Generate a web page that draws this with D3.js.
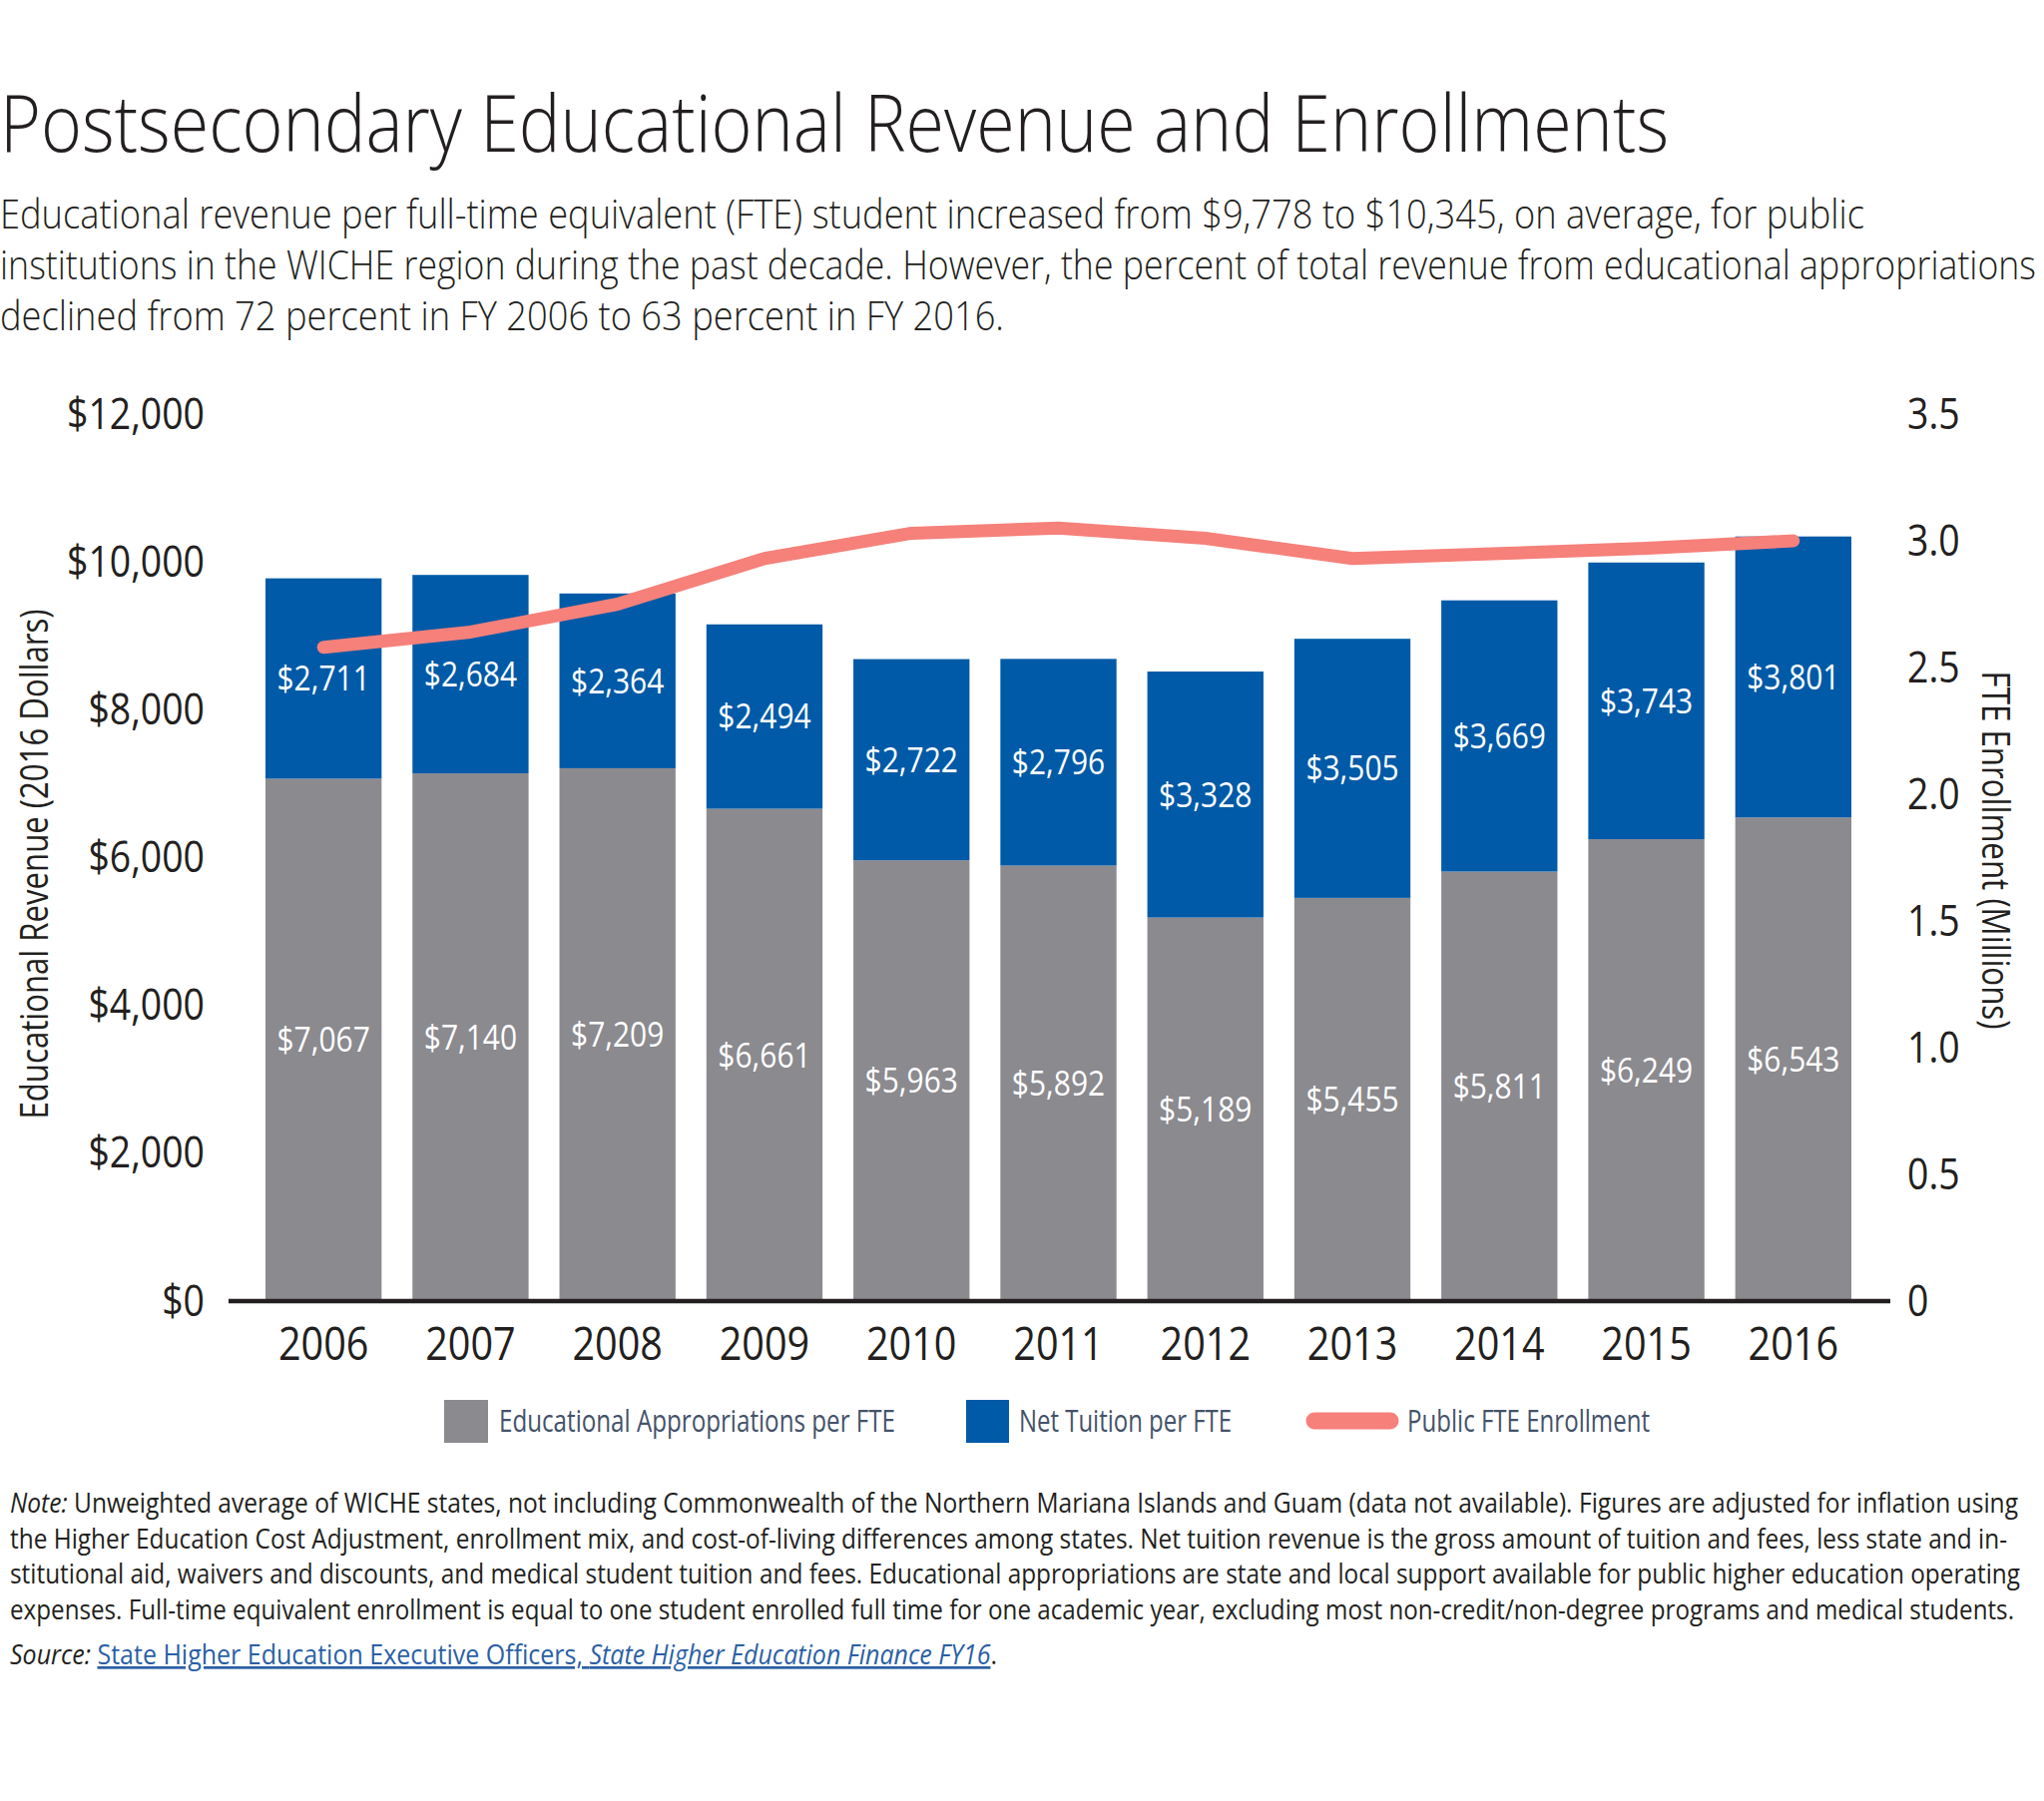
<!DOCTYPE html>
<html><head><meta charset="utf-8">
<script src="https://cdn.jsdelivr.net/npm/d3@7"></script>
<style>
html,body{margin:0;padding:0;background:#fff;}
svg{display:block;}
text{font-family:'Open Sans','Noto Sans','DejaVu Sans',sans-serif;}
</style></head><body>
<svg id="chart" width="2048" height="1805"></svg>
<script>
// ---------- data ----------
const years = ['2006','2007','2008','2009','2010','2011','2012','2013','2014','2015','2016'];
const appropriations = [7067,7140,7209,6661,5963,5892,5189,5455,5811,6249,6543];
const tuition = [2711,2684,2364,2494,2722,2796,3328,3505,3669,3743,3801];
const enrollment = [2.58,2.64,2.75,2.93,3.03,3.05,3.01,2.93,2.95,2.97,3.0];
const leftTicks = [0,2000,4000,6000,8000,10000,12000];
const rightTicks = [0,0.5,1.0,1.5,2.0,2.5,3.0,3.5];
const seriesNames = ['Educational Appropriations per FTE','Net Tuition per FTE','Public FTE Enrollment'];

const titleText = 'Postsecondary Educational Revenue and Enrollments';
const subtitleLines = [
  'Educational revenue per full-time equivalent (FTE) student increased from $9,778 to $10,345, on average, for public',
  'institutions in the WICHE region during the past decade. However, the percent of total revenue from educational appropriations',
  'declined from 72 percent in FY 2006 to 63 percent in FY 2016.'
];
const noteLines = [
  ' Unweighted average of WICHE states, not including Commonwealth of the Northern Mariana Islands and Guam (data not available). Figures are adjusted for inflation using',
  'the Higher Education Cost Adjustment, enrollment mix, and cost-of-living differences among states. Net tuition revenue is the gross amount of tuition and fees, less state and in-',
  'stitutional aid, waivers and discounts, and medical student tuition and fees. Educational appropriations are state and local support available for public higher education operating',
  'expenses. Full-time equivalent enrollment is equal to one student enrolled full time for one academic year, excluding most non-credit/non-degree programs and medical students.'
];

// ---------- style ----------
const C = {gray:'#8b8a8f', blue:'#005aa7', salmon:'#f6807a', ink:'#231f20', legend:'#44526a', link:'#2a5fa5'};

const svg = d3.select('#chart');
svg.append('rect').attr('width',2048).attr('height',1805).attr('fill','#fff');

function fit(sel, w){ sel.attr('textLength', w).attr('lengthAdjust','spacingAndGlyphs'); return sel; }
function squeeze(sel, f){ sel.each(function(){ const w=this.getComputedTextLength(); this.setAttribute('textLength', w*f); this.setAttribute('lengthAdjust','spacingAndGlyphs'); }); return sel; }

// ---------- title ----------
fit(svg.append('text').attr('x',0).attr('y',152).attr('font-size',80).attr('font-weight',300)
  .attr('fill',C.ink).text(titleText), 1672);
const subW = [1868, 2040, 1006];
const subY = [229, 280, 331];
subtitleLines.forEach((t,i)=>{
  fit(svg.append('text').attr('x',0).attr('y',subY[i]).attr('font-size',41).attr('font-weight',300)
    .attr('fill',C.ink).text(t), subW[i]);
});

// ---------- scales ----------
const x = d3.scaleBand().domain(years).range([266,1855]).paddingInner(0.21);
const y = d3.scaleLinear().domain([0,12000]).range([1304,415]);
const y2 = d3.scaleLinear().domain([0,3.5]).range([1304,415]);

// ---------- bars ----------
const rows = years.map((yr,i)=>({yr, a:appropriations[i], t:tuition[i], e:enrollment[i]}));
const g = svg.append('g');
g.selectAll('rect.app').data(rows).join('rect').attr('class','app')
  .attr('x',d=>x(d.yr)).attr('width',x.bandwidth())
  .attr('y',d=>y(d.a)).attr('height',d=>y(0)-y(d.a)).attr('fill',C.gray);
g.selectAll('rect.tui').data(rows).join('rect').attr('class','tui')
  .attr('x',d=>x(d.yr)).attr('width',x.bandwidth())
  .attr('y',d=>y(d.a+d.t)).attr('height',d=>y(d.a)-y(d.a+d.t)).attr('fill',C.blue);

const fmt = d=>'$'+d3.format(',')(d);
squeeze(g.selectAll('text.lapp').data(rows).join('text').attr('class','lapp')
  .attr('x',d=>x(d.yr)+x.bandwidth()/2).attr('y',d=>(y(0)+y(d.a))/2).attr('dy','0.36em')
  .attr('text-anchor','middle').attr('font-size',34).attr('fill','#fff').text(d=>fmt(d.a)), 0.88);
squeeze(g.selectAll('text.ltui').data(rows).join('text').attr('class','ltui')
  .attr('x',d=>x(d.yr)+x.bandwidth()/2).attr('y',d=>(y(d.a)+y(d.a+d.t))/2).attr('dy','0.36em')
  .attr('text-anchor','middle').attr('font-size',34).attr('fill','#fff').text(d=>fmt(d.t)), 0.88);

// ---------- line ----------
const line = d3.line().x(d=>x(d.yr)+x.bandwidth()/2).y(d=>y2(d.e));
svg.append('path').datum(rows).attr('d',line).attr('fill','none').attr('stroke',C.salmon)
  .attr('stroke-width',13).attr('stroke-linecap','round').attr('stroke-linejoin','round');

// ---------- axes ----------
const axL = svg.append('g').attr('transform','translate(215,0)')
  .call(d3.axisLeft(y).tickValues(leftTicks).tickFormat(fmt).tickSize(0).tickPadding(10));
axL.select('.domain').remove();
axL.selectAll('text').attr('font-size',44).attr('fill',C.ink).attr('font-family',null);
squeeze(axL.selectAll('text'), 0.85);

const axR = svg.append('g').attr('transform','translate(1901,0)')
  .call(d3.axisRight(y2).tickValues(rightTicks).tickFormat(d=>d===0?'0':d3.format('.1f')(d)).tickSize(0).tickPadding(10));
axR.select('.domain').remove();
axR.selectAll('text').attr('font-size',44).attr('fill',C.ink).attr('font-family',null);
squeeze(axR.selectAll('text'), 0.85);

const axB = svg.append('g').attr('transform','translate(0,1304)')
  .call(d3.axisBottom(x).tickSize(0).tickPadding(26));
axB.select('.domain').remove();
axB.selectAll('text').attr('font-size',46).attr('fill',C.ink).attr('font-family',null);
squeeze(axB.selectAll('text'), 0.86);

svg.append('line').attr('x1',229).attr('x2',1894).attr('y1',1304).attr('y2',1304)
  .attr('stroke',C.ink).attr('stroke-width',4.5);

// axis titles
fit(svg.append('text').attr('transform','translate(48,866) rotate(-90)').attr('text-anchor','middle')
  .attr('font-size',38).attr('fill',C.ink).text('Educational Revenue (2016 Dollars)'), 511);
fit(svg.append('text').attr('transform','translate(1986,852) rotate(90)').attr('text-anchor','middle')
  .attr('font-size',38).attr('fill',C.ink).text('FTE Enrollment (Millions)'), 359);

// ---------- legend ----------
const lg = svg.append('g');
lg.append('rect').attr('x',445).attr('y',1403).attr('width',44).attr('height',43).attr('fill',C.gray);
lg.append('rect').attr('x',968).attr('y',1403).attr('width',43).attr('height',43).attr('fill',C.blue);
lg.append('line').attr('x1',1317).attr('x2',1393).attr('y1',1424).attr('y2',1424)
  .attr('stroke',C.salmon).attr('stroke-width',17).attr('stroke-linecap','round');
const legX = [500,1021,1410], legW = [397,213,243];
seriesNames.forEach((n,i)=>{
  fit(lg.append('text').attr('x',legX[i]).attr('y',1435).attr('font-size',31).attr('fill',C.legend).text(n), legW[i]);
});

// ---------- notes ----------
const noteW = [2012, 2001, 2014, 2008];
const noteY = [1516, 1552, 1587, 1623];
noteLines.forEach((t,i)=>{
  const tx = svg.append('text').attr('x',10).attr('y',noteY[i]).attr('font-size',27).attr('fill',C.ink);
  if(i===0){ tx.append('tspan').attr('font-style','italic').text('Note:'); }
  tx.append('tspan').text(t);
  fit(tx, noteW[i]);
});
const src = svg.append('text').attr('x',10).attr('y',1668).attr('font-size',27).attr('fill',C.ink);
src.append('tspan').attr('font-style','italic').text('Source: ');
src.append('tspan').attr('fill',C.link).attr('text-decoration','underline').text('State Higher Education Executive Officers, ');
src.append('tspan').attr('fill',C.link).attr('text-decoration','underline').attr('font-style','italic').text('State Higher Education Finance FY16');
src.append('tspan').text('.');
fit(src, 989);
</script>
</body></html>
